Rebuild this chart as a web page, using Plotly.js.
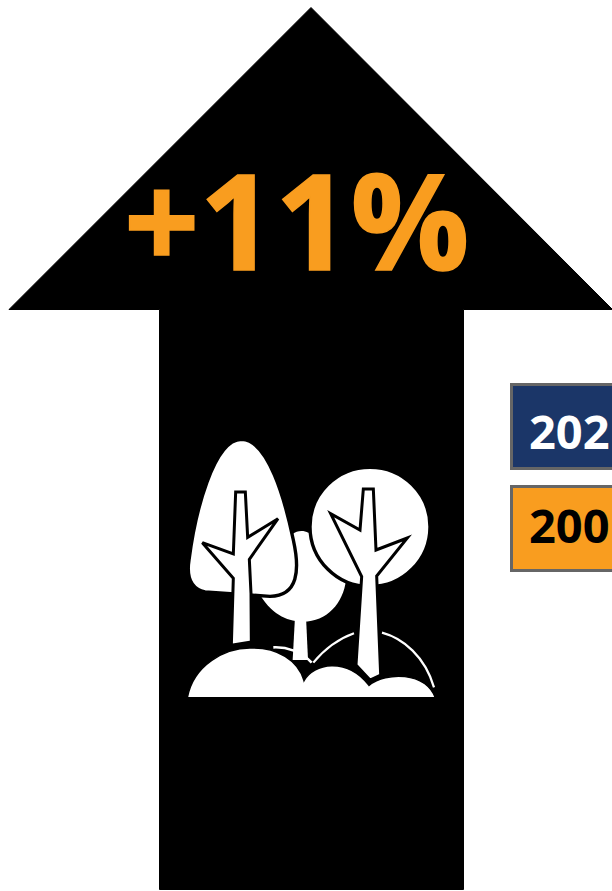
<!DOCTYPE html>
<html>
<head>
<meta charset="utf-8">
<script src="https://cdn.plot.ly/plotly-3.0.1.min.js"></script>
<style>html,body{margin:0;padding:0;background:#fff;overflow:hidden}#chart{width:612px;height:891px}
.annotation[data-index="0"] text{stroke:#F99D1F;stroke-width:1.6px}</style>
</head>
<body>
<div id="chart"></div>
<script>
const changeLabel = "+11%";
const legendLabels = ["202", "200"];
const legendFills = ["#1B3668", "#F99D1F"];
const legendTextColors = ["#FFFFFF", "#000000"];
const ORANGE = "#F99D1F";

function ic(str){
  return str.replace(/(-?\d+\.?\d*),(-?\d+\.?\d*)/g,(m,a,b)=>
    (170+parseFloat(a)/3).toFixed(2)+","+(430+parseFloat(b)/3).toFixed(2)).replace(/,/g," ");
}
function shp(path,fill,lineColor,lineWidth){
  return {type:"path",xref:"x",yref:"y",path:path,fillcolor:fill||"rgba(0,0,0,0)",
    line:{color:lineColor||"rgba(0,0,0,0)",width:lineWidth||0},layer:"above"};
}
const W="#FFFFFF",K="#000000";
const shapes=[
  shp("M311,7.5 L612.5,309.5 L463.5,309.5 L463.5,889.5 L159.5,889.5 L159.5,309.5 L9,309.5 Z",K,K,1),
  {type:"rect",xref:"x",yref:"y",x0:511.5,x1:640,y0:384.5,y1:468.5,fillcolor:legendFills[0],line:{color:"#666666",width:3},layer:"above"},
  {type:"rect",xref:"x",yref:"y",x0:511.5,x1:640,y0:486.5,y1:570.5,fillcolor:legendFills[1],line:{color:"#666666",width:3},layer:"above"},
  // middle tree
  shp(ic("M375,560 L408,560 L414,690 L368,690 Z"),W,K,0),
  shp(ic("M270,495 C310,560 360,575 400,575 C470,575 520,520 528,450 L500,300 L415,308 C400,300 380,302 368,312 L330,420 Z"),W,K,0),
  // back arcs
  shp(ic("M430,698 C470,650 510,625 552,610"),"",W,2.2),
  shp(ic("M636,608 C700,625 765,680 792,772"),"",W,2.2),
  shp(ic("M310,652 C350,650 395,665 425,698"),"",W,2.6),
  // left crown
  shp(ic("M105,486 C60,476 50,435 57,390 C75,250 130,28 215,28 C295,30 345,210 370,330 C390,420 385,497 300,499 Z"),W,K,3.4),
  // left tree
  shp(ic("M197,186 L226,186 L233,322 L324,266 L238,388 L243,490 L244,636 L184,646 L190,445 L97,338 L190,372 Z"),W,K,3),
  // right crown: circle as four cubic arcs
  shp(ic("M420,290 C420,191 501,112 600,112 C699,112 780,191 780,290 C780,389 699,470 600,470 C501,470 420,389 420,290 Z"),W,K,3.4),
  // right tree
  shp(ic("M580,177 L610,177 L618,360 L712,324 L620,438 L632,735 L600,750 L558,705 L575,440 L482,251 L570,300 Z"),W,K,3),
  // mounds
  shp(ic("M52,803 C70,705 165,652 245,654 C320,652 385,690 402,752 C430,700 530,680 597,766 C650,725 765,725 796,803 Z"),W,K,1.5)
];
const annotations=[
  {xref:"x",yref:"y",x:122.5,y:219,xanchor:"left",yanchor:"middle",text:"<b>"+changeLabel+"</b>",showarrow:false,
   font:{family:"Open Sans",size:132,color:ORANGE},borderpad:0},
  {xref:"x",yref:"y",x:528,y:431,xanchor:"left",yanchor:"middle",text:"<b>"+legendLabels[0]+"</b>",showarrow:false,
   font:{family:"Open Sans",size:47,weight:800,color:legendTextColors[0]},borderpad:0},
  {xref:"x",yref:"y",x:528,y:525,xanchor:"left",yanchor:"middle",text:"<b>"+legendLabels[1]+"</b>",showarrow:false,
   font:{family:"Open Sans",size:47,weight:800,color:legendTextColors[1]},borderpad:0}
];
const layout={
  width:612,height:891,margin:{l:0,r:0,t:0,b:0},
  paper_bgcolor:"#FFFFFF",plot_bgcolor:"#FFFFFF",showlegend:false,
  xaxis:{range:[0,612],visible:false,fixedrange:true},
  yaxis:{range:[891,0],visible:false,fixedrange:true},
  shapes:shapes,annotations:annotations
};
Plotly.newPlot("chart",[],layout,{displayModeBar:false,staticPlot:true});
</script>
</body>
</html>
